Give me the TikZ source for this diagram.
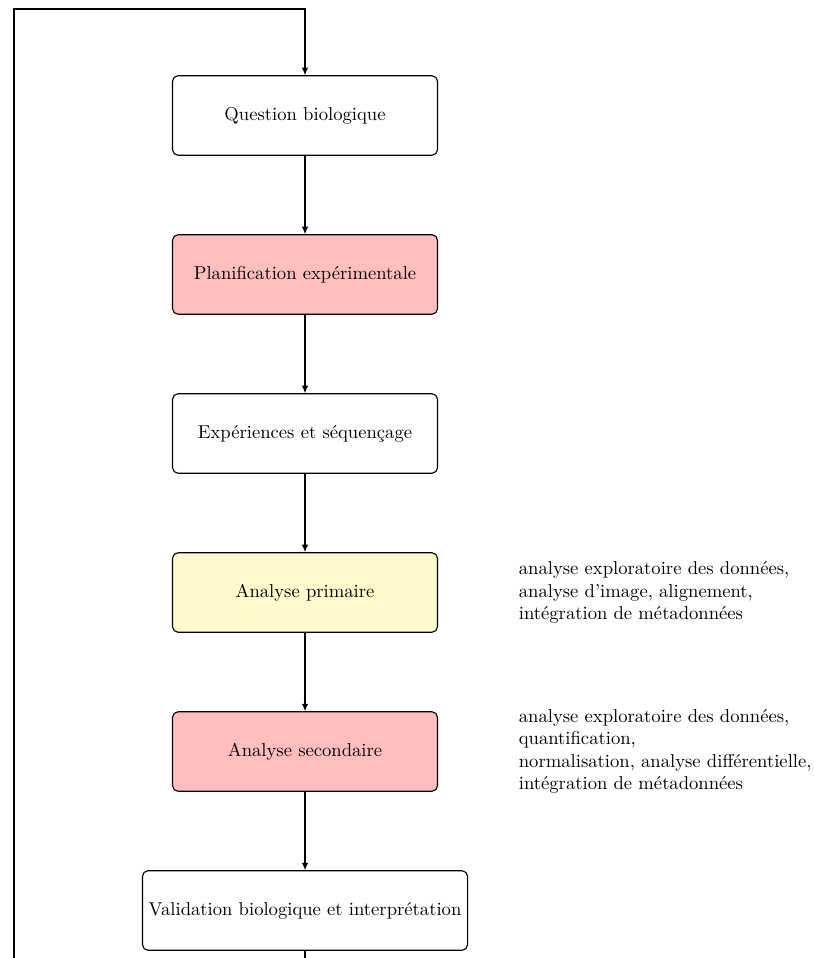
\documentclass[tikz,border=0pt]{standalone}
\usepackage{fontspec}
\usetikzlibrary{positioning,arrows.meta}
\definecolor{planred}{RGB}{255,190,190}
\definecolor{primyellow}{RGB}{255,250,205}
\tikzset{
    stage/.style={draw, semithick, rounded corners=3pt, minimum width=5cm, minimum height=1.5cm, align=center},
    note/.style={align=left},
    flow/.style={-{Latex[length=4pt,width=3.5pt]}, semithick}
}

\begin{document}
\begin{tikzpicture}[node distance=3cm, on grid]
    \useasboundingbox (-5.755,-15.896) rectangle (9.585,2.179);
    %stages
    \node[stage] (question) at (0,0) {Question biologique};
    \node[stage, fill=planred, below=of question] (plan) {Planification expérimentale};
    \node[stage, below=of plan] (exp) {Expériences et séquençage};
    \node[stage, fill=primyellow, below=of exp] (prim) {Analyse primaire};
    \node[stage, fill=planred, below=of prim] (sec) {Analyse secondaire};
    \node[stage, below=of sec] (valid) {Validation biologique et interprétation};
    %notes
    \node[note, anchor=west] (primnote) at ([xshift=1.4cm]prim.east) {analyse exploratoire des données,\\ analyse d'image, alignement,\\ intégration de métadonnées};
    \node[note, anchor=west] (secnote) at ([xshift=1.4cm]sec.east) {analyse exploratoire des données,\\ quantification,\\ normalisation, analyse différentielle,\\ intégration de métadonnées};
    %arrows
    \draw[flow] (question) -- (plan);
    \draw[flow] (plan) -- (exp);
    \draw[flow] (exp) -- (prim);
    \draw[flow] (prim) -- (sec);
    \draw[flow] (sec) -- (valid);
    %loop back
    \coordinate (loopbl) at (-5.49,-16.5);
    \coordinate (looptr) at (0,2.01);
    \draw[flow] (valid.south) |- (loopbl) |- (looptr) -- (question.north);
\end{tikzpicture}
\end{document}
